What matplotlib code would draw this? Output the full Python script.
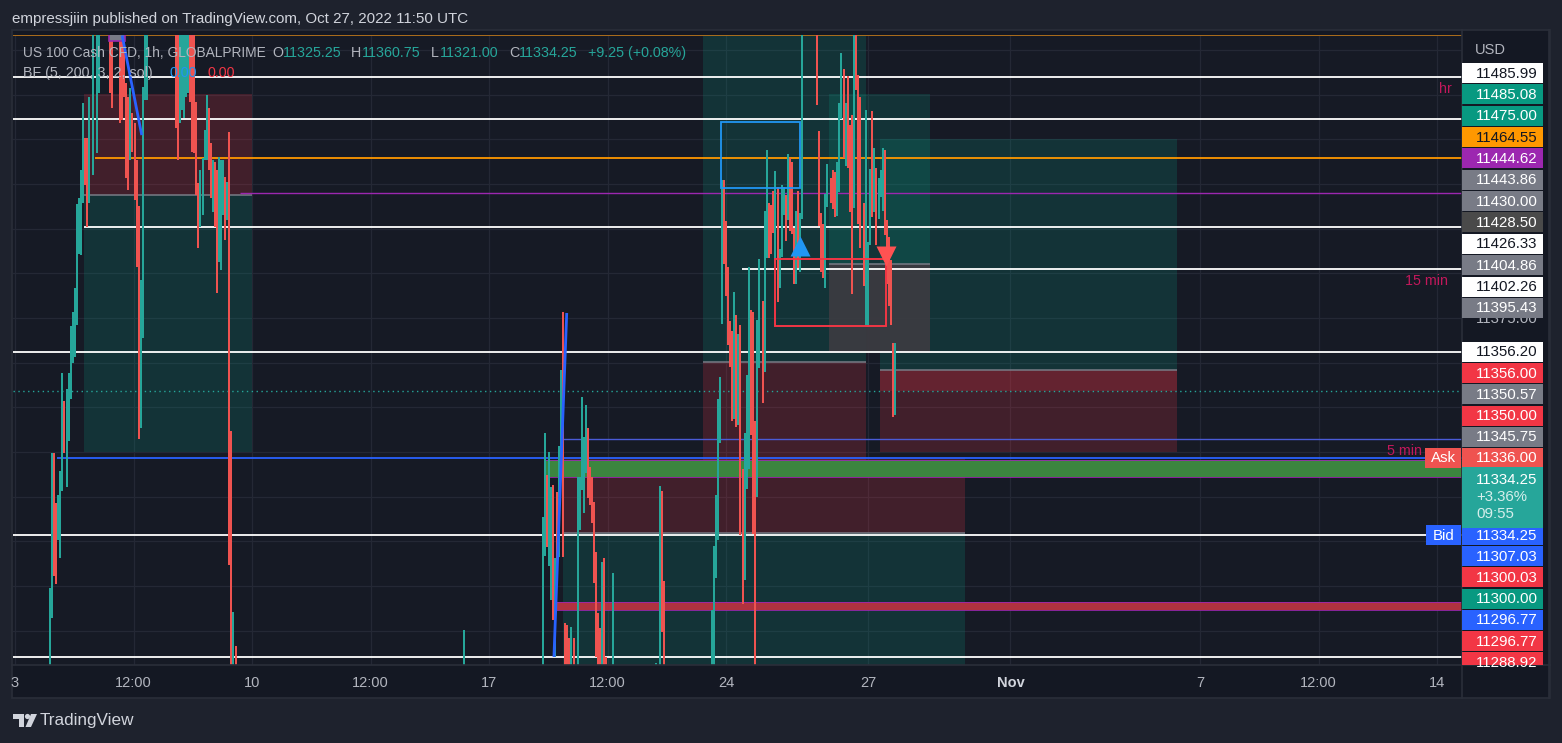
import numpy as np
import matplotlib
matplotlib.use("Agg")
import matplotlib.pyplot as plt
from matplotlib import font_manager
from matplotlib.patches import Rectangle, Circle, Polygon

# pick a sans family that is installed
_names = {f.name for f in font_manager.fontManager.ttflist}
for fam in ["Liberation Sans", "Roboto", "DejaVu Sans"]:
    if fam in _names:
        plt.rcParams["font.family"] = fam
        break

BARS_PER_DAY = 23          # 1h bars per trading day, weekends skipped
W, H = 1562, 743

# ---- time axis -------------------------------------------------------------
tick_day = [0, 2.5, 5, 7.5, 10, 12.5, 15, 18, 21, 25, 27.5, 30]
tick_text = ["3", "12:00", "10", "12:00", "17", "12:00", "24", "27", "Nov", "7", "12:00", "14"]

# ---- candles (bar index from Oct 3, high, low, up=1/down=0) ----------------
candle_bar = [17, 18, 19, 20, 21, 22, 23, 24, 25, 26, 27, 28, 29, 30, 31, 32, 33, 34, 35, 36,
              38, 40, 41, 46, 47, 51, 52, 53, 54, 55, 56, 57, 58, 59, 60, 61, 62, 63, 64,
              78, 79, 80, 81, 82, 83, 84, 85, 86, 87, 88, 89, 90, 91, 92, 93, 94, 95, 96, 97,
              98, 99, 100, 101, 102, 103, 104, 105, 106, 107, 218,
              256, 257, 258, 259, 260, 261, 262, 263, 264, 265, 266, 267, 268, 269, 270, 271,
              273, 274, 275, 276, 277, 278, 279, 280, 281, 282, 283, 284, 285, 286, 287, 290,
              311, 313, 314, 315,
              338, 339, 340, 341, 342, 343, 344, 345, 346, 347, 348, 349, 350, 351, 352, 353,
              354, 355, 356, 357, 358, 359, 360, 361, 363, 364, 365, 366, 367, 368, 369, 370,
              371, 372, 373, 374, 375, 376, 377, 378, 379, 380, 381, 382, 389, 390, 391, 392,
              393, 394, 396, 397, 398, 399, 400, 401, 402, 403, 404, 405, 406, 407, 408, 409,
              410, 412, 413, 414, 415, 416, 417, 418, 419, 420, 421, 422, 423, 424, 425, 426, 427]
candle_high = [11224.0, 11299.5, 11299.5, 11271.5, 11276.0, 11289.4, 11344.2, 11328.6, 11335.3, 11344.2,
               11370.5, 11378.4, 11391.8, 11438.8, 11442.1, 11457.8, 11495.3, 11475.7, 11475.7, 11498.6,
               11560, 11560, 11560, 11560, 11560, 11560, 11560, 11530.0, 11506.4, 11498.6, 11503.6,
               11489.7, 11484.1, 11463.4, 11437.6, 11396.3, 11504.2, 11560, 11560,
               11560, 11560, 11560, 11560, 11560, 11560, 11560, 11560, 11560, 11560, 11495.8, 11450.5,
               11457.8, 11464.5, 11480.1, 11499.7, 11492.5, 11472.9, 11463.4, 11462.3,
               11457.8, 11465.0, 11463.4, 11463.4, 11453.9, 11451.1, 11479.0, 11311.8, 11210.6, 11191.6, 11200.5,
               11263.9, 11310.5, 11287.2, 11300.2, 11280.6, 11281.6, 11240.6, 11277.9, 11303.6, 11345.9,
               11378.5, 11204.4, 11203.3, 11196.0, 11202.3, 11196.2,
               11286.2, 11286.2, 11331.0, 11308.6, 11326.3, 11313.6, 11291.8, 11286.2, 11272.3, 11244.3,
               11209.8, 11201.4, 11238.7, 11240.6, 11185.6, 11232.2,
               11182.0, 11281.0, 11278.2, 11228.0,
               11211.7, 11247.5, 11276.0, 11329.7, 11342.0, 11452.2, 11452.2, 11429.3, 11403.5, 11373.3,
               11367.7, 11389.5, 11376.7, 11366.1, 11371.1, 11290.5,
               11310.7, 11343.1, 11403.5, 11379.5, 11378.4, 11317.4, 11373.9, 11408.0, 11384.5, 11434.8,
               11469.0, 11439.3, 11438.2, 11446.0, 11457.2, 11448.3,
               11413.6, 11449.4, 11448.3, 11443.8, 11466.7, 11464.5, 11462.3, 11425.3, 11434.8, 11446.0,
               11433.7, 11560, 11560, 11479.6, 11433.7, 11427.6,
               11444.4, 11461.1, 11453.3, 11457.8, 11456.7, 11462.3, 11495.3, 11523.2, 11514.3, 11495.3,
               11510.4, 11482.9, 11488.5, 11560, 11560, 11510.9,
               11498.6, 11439.3, 11491.3, 11417.5, 11458.3, 11490.7, 11470.1, 11458.9, 11453.3, 11457.8,
               11470.1, 11469.0, 11429.8, 11420.3, 11407.4, 11361.0, 11360.75]
candle_low = [11150, 11207.2, 11230.7, 11226.2, 11250.8, 11240.8, 11278.2, 11299.5, 11280.5, 11306.2,
              11329.7, 11349.8, 11353.2, 11371.1, 11410.8, 11410.2, 11439.3, 11449.4, 11425.9, 11439.3,
              11455.0, 11467.3, 11500.8, 11500.8, 11492.5, 11484.1, 11485.7, 11498.6, 11453.3, 11446.6, 11463.4,
              11467.8, 11441.0, 11403.5, 11307.3, 11313.5, 11363.8, 11496.9, 11496.9,
              11481.3, 11463.4, 11484.1, 11491.3, 11486.9, 11498.6, 11500.8, 11495.8, 11467.8, 11467.3, 11443.8, 11414.2,
              11425.9, 11432.6, 11463.4, 11463.4, 11457.8, 11442.1, 11434.3, 11425.9,
              11389.0, 11406.3, 11401.8, 11432.6, 11418.6, 11429.8, 11236.9, 11150, 11150, 11150, 11150,
              11150, 11241.9, 11246.9, 11236.5, 11217.3, 11205.8, 11185.6, 11228.9, 11241.5, 11288.1,
              11241.5, 11150, 11150, 11150, 11150, 11150,
              11150, 11256.4, 11278.8, 11265.8, 11288.1, 11274.2, 11270.4, 11260.2, 11226.6, 11185.6,
              11150, 11150, 11150, 11150, 11150, 11150,
              11150, 11150, 11199.6, 11150,
              11150, 11150, 11229.6, 11250.8, 11305.1, 11371.6, 11405.2, 11387.3, 11359.9, 11347.6,
              11317.4, 11318.5, 11314.0, 11315.2, 11253.6, 11215.0,
              11228.5, 11279.4, 11290.5, 11309.6, 11254.2, 11150, 11274.9, 11347.0, 11327.5, 11344.8,
              11408.6, 11408.6, 11410.8, 11422.5, 11405.2, 11383.9,
              11391.8, 11409.1, 11432.6, 11418.1, 11429.8, 11423.7, 11422.0, 11394.0, 11394.0, 11403.0,
              11400.7, 11430.4, 11494.1, 11426.5, 11400.7, 11397.4,
              11391.8, 11437.1, 11439.3, 11435.9, 11431.5, 11432.0, 11445.5, 11486.3, 11464.5, 11460.0,
              11458.9, 11434.3, 11388.4, 11436.5, 11502.5, 11427.6,
              11414.2, 11392.9, 11371.1, 11370.0, 11415.8, 11431.5, 11434.3, 11415.8, 11430.4, 11442.7,
              11434.8, 11421.4, 11394.0, 11381.7, 11371.1, 11319.6, 11321.0]
candle_up = [1, 1, 0, 0, 1, 1, 1, 0, 1, 1, 1, 1, 1, 1, 1, 1, 1, 0, 0, 1,
             1, 1, 1, 0, 0, 0, 0, 0, 0, 0, 1, 0, 0, 0, 0, 1, 1, 1, 1,
             0, 0, 1, 1, 1, 1, 1, 0, 0, 0, 0, 0, 1, 1, 1, 1, 0, 0, 1, 0,
             0, 1, 1, 1, 0, 1, 0, 0, 1, 0, 1,
             1, 1, 0, 1, 1, 0, 1, 0, 1, 1, 0, 0, 0, 0, 1, 0,
             1, 1, 1, 1, 1, 0, 0, 0, 0, 0, 0, 0, 1, 0, 0, 1,
             1, 1, 0, 0,
             1, 1, 1, 1, 1, 1, 0, 0, 0, 0, 0, 1, 0, 1, 0, 0,
             1, 1, 1, 0, 0, 0, 1, 1, 0, 1, 1, 0, 0, 0, 1, 0,
             1, 1, 1, 0, 1, 0, 0, 0, 1, 0, 1, 1, 0, 0, 0, 0,
             1, 1, 0, 0, 0, 1, 1, 1, 0, 1, 0, 0, 0, 1, 0, 0,
             0, 0, 1, 1, 1, 0, 1, 0, 1, 1, 1, 0, 0, 0, 0, 0, 1]

# ---- position tools (profit / loss zones) ----------------------------------
box_start = [33.5, 33.5, 333.8, 333.8, 395.0, 419.7, 419.7, 419.7, 265.9, 265.9]
box_end = [115.0, 115.0, 412.9, 412.9, 444.0, 563.8, 563.8, 563.8, 460.9, 460.9]
box_low = [11443.8, 11300.1, 11350.4, 11288.3, 11405.2, 11345.9, 11300.1, 11334.2, 11254.8, 11150]
box_high = [11500.3, 11443.8, 11560, 11350.4, 11500.3, 11475.1, 11345.9, 11345.9, 11296.7, 11254.8]
box_kind = ["loss", "profit", "profit", "loss", "profit", "profit", "loss", "loss", "loss", "profit"]
grey_start, grey_end, grey_low, grey_high = 395.0, 444.0, 11356.0, 11405.2
entry_start = [33.5, 333.8, 395.0, 419.7, 265.9]
entry_end = [115.0, 412.9, 444.0, 563.8, 460.9]
entry_price = [11443.8, 11350.4, 11405.2, 11345.9, 11254.8]

# ---- horizontal levels -----------------------------------------------------
level_price = [11533.3, 11509.8, 11486.3, 11464.5, 11444.9, 11425.9, 11402.4, 11356.0,
               11307.3, 11296.7, 11253.6, 11185.4]
level_start = [-1, -1, -1, 38.8, 109.2, 33.5, 352.7, -1, 264.4, 20.4, -1, -1]
level_color = ["#b8741a", "#ffffff", "#ffffff", "#ff9800", "#9c27b0", "#ffffff", "#ffffff",
               "#ffffff", "#4a5bd6", "#2962ff", "#ffffff", "#ffffff"]
last_price = 11334.25
band_start = [256.7, 260.9]
band_low = [11286.1, 11211.7]
band_high = [11295.6, 11216.2]
band_color = ["#3c853f", "#b0323f"]

# ---- BF indicator ----------------------------------------------------------
bf1_bar, bf1_price = [52.0, 61.5], [11533.0, 11477.3]
bf2_bar, bf2_price = [261.5, 267.7], [11185.4, 11377.8]
buy_bar, buy_price = 381.0, 11415.5
sell_bar, sell_price = 422.6, 11409.7
red_rect = (368.8, 422.6, 11370.5, 11408.0)
blue_rect = (342.6, 380.9, 11447.7, 11484.6)
marker_box = (45.6, 53.4, 11530.0, 11534.0)

# ---- price scale tags (stacked as on the axis) -----------------------------
tag_text = ["11485.99", "11485.08", "11475.00", "11464.55", "11444.62", "11443.86", "11430.00",
            "11428.50", "11426.33", "11404.86", "11402.26", "11395.43",
            "11356.20", "11356.00", "11350.57", "11350.00", "11345.75", "11336.00",
            "11334.25", "11307.03", "11300.03", "11300.00", "11296.77", "11296.77", "11288.92"]
tag_bg = ["#ffffff", "#089981", "#089981", "#ff9800", "#9c27b0", "#787b86", "#787b86",
          "#4a4a4a", "#ffffff", "#787b86", "#ffffff", "#787b86",
          "#ffffff", "#f23645", "#787b86", "#f23645", "#787b86", "#ef5350",
          "#2962ff", "#2962ff", "#f23645", "#089981", "#2962ff", "#f23645", "#f23645"]

BG_OUT = "#1e222d"
PANEL = "#141823"
PLOT_BG = "#161a25"
GRID = "#242835"
UP, DOWN = "#26a69a", "#ef5350"
TXT = "#b2b5be"

fig = plt.figure(figsize=(W / 100, H / 100), dpi=100, facecolor=BG_OUT)

# background chrome (pixel coordinates, y down)
bg = fig.add_axes([0, 0, 1, 1], zorder=0)
bg.set_xlim(0, W)
bg.set_ylim(H, 0)
bg.axis("off")
bg.add_patch(Rectangle((12, 30), 1538, 668, fc=PANEL, ec="#2a2e39", lw=1.2))

# main price chart
L, R, T, B = 13, 1462, 35, 665
ax = fig.add_axes([L / W, 1 - B / H, (R - L) / W, (B - T) / H], zorder=2)
ax.set_facecolor(PLOT_BG)
xmin, xmax = -0.97, 702.1
ymin, ymax = 11180.9, 11533.3
ax.set_xlim(xmin, xmax)
ax.set_ylim(ymin, ymax)
for s in ax.spines.values():
    s.set_visible(False)

xt = [d * BARS_PER_DAY for d in tick_day]
ax.set_xticks(xt)
ax.set_xticklabels(tick_text, color=TXT, fontsize=10.5)
for lab in ax.get_xticklabels():
    if lab.get_text() == "Nov":
        lab.set_fontweight("bold")
        lab.set_color("#d1d4dc")
ax.tick_params(axis="x", length=0, pad=8)
ygrid = np.arange(11200, 11526, 25)
ax.set_yticks(ygrid)
ax.set_yticklabels(["" if v != 11375 else f"{v:.2f}" for v in ygrid], color=TXT, fontsize=10.8)
ax.yaxis.tick_right()
ax.tick_params(axis="y", length=0, pad=10)
for v in ygrid:
    ax.axhline(v, color=GRID, lw=0.9, zorder=0)
for v in xt:
    ax.axvline(v, color=GRID, lw=0.9, zorder=0)

# position zones
zone_color = {"profit": ("#089981", 0.2), "loss": ("#f23645", 0.2)}
for x0, x1, lo, hi, k in zip(box_start, box_end, box_low, box_high, box_kind):
    c, a = zone_color[k]
    ax.add_patch(Rectangle((x0, lo), x1 - x0, hi - lo, fc=c, alpha=a, lw=0, zorder=1))
ax.add_patch(Rectangle((grey_start, grey_low), grey_end - grey_start, grey_high - grey_low,
                       fc="#3b3b41", alpha=0.95, lw=0, zorder=1.1))
ax.hlines(entry_price, entry_start, entry_end, colors="#787b86", lw=1.1, zorder=1.2)

# bands
for x0, lo, hi, c in zip(band_start, band_low, band_high, band_color):
    ax.add_patch(Rectangle((x0, lo), xmax - x0, hi - lo, fc=c, lw=0, zorder=1.5))
    ax.hlines([lo, hi], x0, xmax, colors="#9c27b0", lw=0.6, zorder=1.6)

# levels
for p, x0, c in zip(level_price, level_start, level_color):
    lw = 1.0 if c in ("#9c27b0", "#4a5bd6") else 1.3
    ax.hlines(p, x0, xmax, colors=c, lw=lw, zorder=3)
ax.axhline(last_price, color=UP, lw=1, ls=(0, (1, 2.5)), zorder=3)

# candles
cb = np.array(candle_bar, float)
ch = np.array(candle_high)
cl = np.array(candle_low)
cu = np.array(candle_up, bool)
ax.vlines(cb[cu], cl[cu], ch[cu], colors=UP, lw=1.1, zorder=4, antialiased=False)
ax.vlines(cb[~cu], cl[~cu], ch[~cu], colors=DOWN, lw=1.1, zorder=4, antialiased=False)

# drawings / indicator
x0, x1, lo, hi = marker_box
ax.add_patch(Rectangle((x0, lo), x1 - x0, hi - lo, fc="#787b86", ec="#9c27b0", lw=1.2, zorder=5))
ax.plot(bf1_bar, bf1_price, color="#2962ff", lw=2, zorder=5, solid_capstyle="butt")
ax.plot(bf2_bar, bf2_price, color="#2962ff", lw=2, zorder=5, solid_capstyle="butt")
x0, x1, lo, hi = red_rect
ax.add_patch(Rectangle((x0, lo), x1 - x0, hi - lo, fc="none", ec="#f23645", lw=1.4, zorder=5))
x0, x1, lo, hi = blue_rect
ax.add_patch(Rectangle((x0, lo), x1 - x0, hi - lo, fc="none", ec="#2196f3", lw=1.3, zorder=5))
ax.plot([buy_bar], [buy_price], marker="^", ms=14, color="#2196f3", mec="none", zorder=6)
ax.plot([sell_bar], [sell_price], marker="v", ms=14, color="#ff5252", mec="none", zorder=6)

# foreground chrome
fg = fig.add_axes([0, 0, 1, 1], zorder=5)
fg.set_xlim(0, W)
fg.set_ylim(H, 0)
fg.axis("off")
fg.patch.set_visible(False)
fg.plot([R, R], [30, 698], color="#2a2e39", lw=1.2)
fg.plot([12, 1550], [B, B], color="#2a2e39", lw=1.2)
fg.plot([1549, 1549], [30, 698], color="#2a2e39", lw=1.2)

fg.text(12, 19, "empressjiin published on TradingView.com, Oct 27, 2022 11:50 UTC",
        color="#d1d4dc", fontsize=10.9, va="center", ha="left")
fg.text(23, 53, "US 100 Cash CFD, 1h, GLOBALPRIME", color=TXT, fontsize=9.9, va="center")
for xx, s, c in [(272, "O", TXT), (283, "11325.25", UP), (351, "H", TXT), (362, "11360.75", UP),
                 (431, "L", TXT), (440, "11321.00", UP), (509, "C", TXT), (519, "11334.25", UP),
                 (588, "+9.25 (+0.08%)", UP)]:
    fg.text(xx, 53, s, color=c, fontsize=10.3, va="center")
fg.text(23, 73, "BF (5, 200, 3, 2, sol)", color=TXT, fontsize=10.3, va="center")
fg.text(170, 73, "0.00", color="#2196f3", fontsize=10.3, va="center")
fg.text(208, 73, "0.00", color="#f23645", fontsize=10.3, va="center")

note_c = "#c2185b"
fg.text(1452, 89, "hr", color=note_c, fontsize=10.3, va="center", ha="right")
fg.text(1448, 281, "15 min", color=note_c, fontsize=10.3, va="center", ha="right")
fg.text(1422, 451, "5 min", color=note_c, fontsize=10.3, va="center", ha="right", zorder=2)

fg.text(1475, 50, "USD", color=TXT, fontsize=10.5, va="center")

# stacked tags: three groups, ~21 px apart
centres = list(73 + 21.35 * np.arange(12)) + list(352 + 21.2 * np.arange(6)) + \
    list(535 + 21.2 * np.arange(7))
for yc, s, c in zip(centres, tag_text, tag_bg):
    hgt = min(20, B - (yc - 10))
    box = Rectangle((1462, yc - 10), 81, hgt, fc=c, ec="none", zorder=4)
    fg.add_patch(box)
    tc = "#131722" if c in ("#ffffff", "#ff9800") else "#ffffff"
    t = fg.text(1476, yc + 0.5, s, color=tc, fontsize=10.8, va="center", zorder=5)
    if hgt < 20:
        t.set_clip_path(box)

# last price tag
fg.add_patch(Rectangle((1462, 467), 81, 61, fc="#26a69a", ec="none", zorder=4))
fg.text(1476, 480, "11334.25", color="#ffffff", fontsize=10.8, va="center", zorder=5)
fg.text(1476, 497, "+3.36%", color="#d5eeeb", fontsize=10.8, va="center", zorder=5)
fg.text(1476, 514, "09:55", color="#d5eeeb", fontsize=10.8, va="center", zorder=5)

# Ask / Bid tags
fg.add_patch(Rectangle((1425, 448), 36, 20, fc="#ef5350", ec="none", zorder=4))
fg.text(1443, 458.5, "Ask", color="#ffffff", fontsize=10.8, va="center", ha="center", zorder=5)
fg.add_patch(Rectangle((1426, 525), 35, 20, fc="#2962ff", ec="none", zorder=4))
fg.text(1443.5, 535.5, "Bid", color="#ffffff", fontsize=10.8, va="center", ha="center", zorder=5)

# TradingView logo
lc = "#d1d4dc"
fg.add_patch(Rectangle((13, 714), 11, 5, fc=lc, ec="none"))
fg.add_patch(Rectangle((18.5, 714), 5.5, 13, fc=lc, ec="none"))
fg.add_patch(Circle((27.5, 716.5), 2.6, fc=lc, ec="none"))
fg.add_patch(Polygon([(31, 714), (37, 714), (31, 727), (25.5, 727)], closed=True, fc=lc, ec="none"))
fg.text(40, 721, "TradingView", color=lc, fontsize=12.3, va="center")

fig.savefig("out.png", dpi=100, facecolor=BG_OUT)
